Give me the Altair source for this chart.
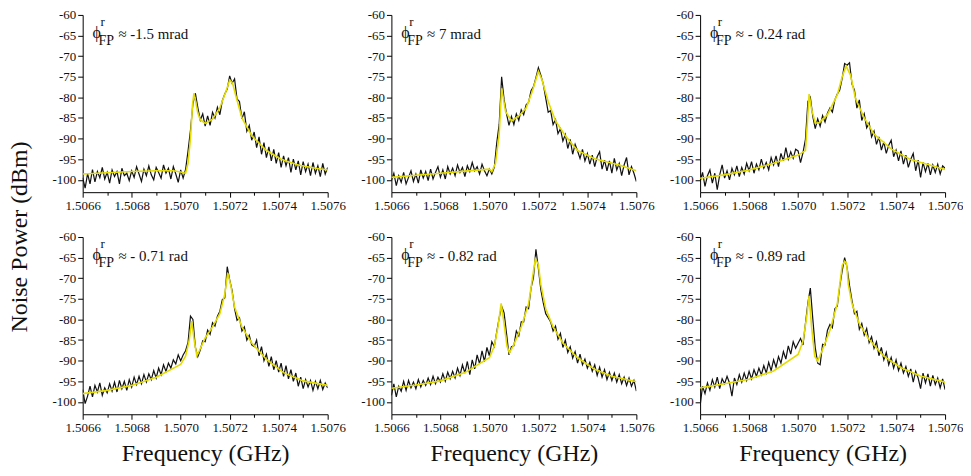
import altair as alt
import pandas as pd

# ---------------- data ----------------
FREQ = [
    1.50660, 1.50661, 1.50662, 1.50663, 1.50664, 1.50665, 1.50666, 1.50667, 1.50668, 1.50669,
    1.50670, 1.50671, 1.50672, 1.50673, 1.50674, 1.50675, 1.50676, 1.50677, 1.50678, 1.50679,
    1.50680, 1.50681, 1.50682, 1.50683, 1.50684, 1.50685, 1.50686, 1.50687, 1.50688, 1.50689,
    1.50690, 1.50691, 1.50692, 1.50693, 1.50694, 1.50695, 1.50696, 1.50697, 1.50698, 1.50699,
    1.50700, 1.50701, 1.50702, 1.50703, 1.50704, 1.50705, 1.50706, 1.50707, 1.50708, 1.50709,
    1.50710, 1.50711, 1.50712, 1.50713, 1.50714, 1.50715, 1.50716, 1.50717, 1.50718, 1.50719,
    1.50720, 1.50721, 1.50722, 1.50723, 1.50724, 1.50725, 1.50726, 1.50727, 1.50728, 1.50729,
    1.50730, 1.50731, 1.50732, 1.50733, 1.50734, 1.50735, 1.50736, 1.50737, 1.50738, 1.50739,
    1.50740, 1.50741, 1.50742, 1.50743, 1.50744, 1.50745, 1.50746, 1.50747, 1.50748, 1.50749,
    1.50750, 1.50751, 1.50752, 1.50753, 1.50754, 1.50755, 1.50756, 1.50757, 1.50758, 1.50759,
    1.50760,
]

MEAS_1 = [
    -99.5, -102.0, -98.5, -101.0, -97.5, -100.5, -98.0, -99.5, -97.0, -99.8,
    -98.2, -100.8, -97.6, -99.2, -98.0, -101.0, -97.2, -99.0, -98.4, -100.2,
    -97.8, -99.4, -96.8, -98.6, -100.4, -97.4, -99.0, -96.6, -98.8, -100.0,
    -97.0, -98.2, -99.6, -96.4, -98.4, -97.2, -99.8, -96.8, -98.6, -100.6,
    -97.6, -99.6, -97.5, -93.0, -88.0, -81.5, -79.0, -82.5, -85.5, -84.0,
    -87.0, -84.5, -86.8, -83.6, -85.0, -82.4, -84.2, -80.8, -79.2, -78.0,
    -74.8, -76.6, -75.5, -80.4, -81.0, -85.2, -83.5, -88.2, -86.8, -90.4,
    -88.4, -92.2, -89.6, -93.8, -91.0, -94.6, -92.0, -95.4, -92.6, -96.0,
    -93.4, -97.0, -94.2, -96.6, -94.6, -98.2, -95.0, -97.6, -95.4, -98.8,
    -95.6, -98.0, -96.2, -99.0, -95.8, -98.4, -96.6, -99.2, -96.0, -98.6,
    -97.0,
]
MEAS_2 = [
    -100.2, -98.4, -101.4, -99.0, -100.6, -98.2, -101.0, -99.4, -97.8, -100.4,
    -98.6, -100.8, -97.6, -99.6, -98.0, -100.2, -97.4, -99.8, -98.2, -96.8,
    -99.4, -97.6, -99.8, -96.8, -98.6, -97.2, -99.0, -96.4, -98.2, -97.0,
    -99.2, -96.6, -98.0, -95.8, -97.8, -96.8, -98.6, -96.2, -97.8, -99.0,
    -97.4, -98.6, -97.0, -91.0, -86.5, -75.0, -80.5, -84.0, -86.8, -84.6,
    -86.6, -84.0, -85.6, -83.0, -84.2, -81.8, -81.2, -78.4, -77.4, -75.2,
    -72.8, -74.6, -76.8, -80.2, -83.6, -83.2, -86.6, -85.4, -88.8, -87.6,
    -90.6, -89.0, -92.4, -90.2, -93.8, -91.4, -93.0, -94.8, -92.6, -95.4,
    -93.6, -96.2, -94.0, -96.8, -94.4, -93.2, -97.4, -95.2, -97.8, -95.4,
    -98.4, -94.8, -97.6, -96.0, -99.0, -96.4, -94.6, -98.8, -96.8, -98.4,
    -100.4,
]
MEAS_3 = [
    -100.4, -98.2, -101.6, -99.0, -97.6, -100.8, -98.4, -102.4, -98.8, -96.4,
    -99.6, -97.8, -100.0, -97.2, -98.8, -96.6, -99.2, -97.0, -98.6, -96.0,
    -97.8, -95.6, -98.4, -96.2, -97.6, -95.0, -97.2, -95.8, -97.6, -94.6,
    -96.4, -94.2, -96.8, -93.6, -95.4, -92.2, -95.0, -93.2, -94.8, -92.6,
    -93.0, -95.8, -93.4, -90.2, -81.0, -80.0, -84.6, -87.6, -85.2, -87.0,
    -84.4, -86.0, -83.8, -82.6, -83.6, -80.6, -79.2, -78.2, -75.4, -71.8,
    -72.2, -71.6, -76.8, -78.2, -82.6, -80.6, -85.6, -84.0, -87.4, -86.2,
    -89.6, -88.2, -91.4, -89.6, -92.8, -90.8, -93.6, -91.6, -90.4, -94.4,
    -92.8, -95.4, -93.0, -96.2, -94.0, -97.0, -95.0, -93.6, -97.8, -95.2,
    -99.4, -95.8, -98.0, -96.0, -98.8, -96.4, -98.2, -96.2, -98.6, -96.6,
    -97.2,
]
MEAS_4 = [
    -97.0, -100.4, -98.6, -96.2, -98.8, -96.0, -97.6, -95.4, -98.4, -96.6,
    -97.8, -95.6, -97.4, -95.2, -97.6, -94.8, -96.8, -95.0, -97.2, -94.6,
    -96.4, -94.0, -95.8, -93.8, -95.6, -93.4, -95.2, -93.2, -94.6, -92.4,
    -94.2, -91.8, -93.4, -91.0, -92.6, -90.6, -91.8, -89.8, -90.8, -88.6,
    -90.0, -88.6, -87.6, -85.6, -79.2, -80.0, -86.8, -89.0, -87.4, -85.2,
    -85.4, -82.6, -83.6, -80.8, -81.6, -79.2, -78.0, -75.2, -74.8, -67.2,
    -70.4, -73.0, -77.4, -80.2, -79.6, -82.8, -81.8, -85.0, -83.8, -86.2,
    -86.6, -85.0, -88.8, -86.6, -90.0, -88.4, -91.4, -89.0, -92.2, -90.0,
    -92.8, -90.6, -93.8, -91.2, -94.4, -92.2, -95.0, -93.0, -96.2, -94.0,
    -96.8, -94.6, -96.4, -94.8, -97.2, -95.0, -96.8, -94.8, -97.0, -95.4,
    -96.6,
]
MEAS_5 = [
    -98.4, -95.6, -98.8, -96.2, -97.4, -95.0, -97.2, -94.8, -96.6, -95.2,
    -96.8, -94.6, -96.4, -94.8, -96.0, -94.2, -95.8, -93.8, -95.6, -94.0,
    -95.2, -93.2, -95.0, -92.8, -94.4, -92.6, -94.2, -91.8, -93.6, -91.0,
    -93.0, -90.2, -93.4, -89.8, -92.0, -88.6, -90.8, -87.6, -90.2, -86.8,
    -88.8, -85.4, -86.6, -83.0, -79.6, -76.8, -78.4, -83.4, -88.6, -86.6,
    -86.4, -82.8, -84.0, -80.6, -80.6, -77.0, -77.4, -72.4, -69.8, -63.0,
    -67.6, -72.8, -76.0, -78.6, -79.6, -80.6, -82.8, -81.6, -84.8, -83.4,
    -86.8, -85.0, -88.0, -86.6, -89.4, -87.8, -90.6, -88.4, -91.0, -89.6,
    -91.8, -90.4, -92.6, -91.0, -93.6, -91.6, -94.0, -92.2, -94.6, -92.8,
    -94.8, -93.0, -95.2, -93.4, -95.6, -94.0, -96.0, -94.2, -96.2, -94.8,
    -97.4,
]
MEAS_6 = [
    -101.0, -96.2, -98.0, -95.4, -97.2, -94.6, -96.4, -94.0, -96.8, -94.4,
    -95.6, -93.8, -95.4, -98.6, -94.2, -95.8, -93.4, -95.2, -93.0, -94.8,
    -92.6, -94.4, -92.2, -93.8, -91.8, -93.4, -91.2, -93.0, -90.4, -92.4,
    -89.8, -91.6, -89.0, -90.6, -87.8, -89.6, -86.4, -88.4, -85.4, -87.0,
    -85.8, -84.6, -86.2, -81.0, -76.0, -72.4, -79.8, -86.8, -90.6, -91.0,
    -86.0, -86.2, -82.6, -81.2, -82.0, -77.4, -76.8, -72.0, -68.2, -65.0,
    -67.4, -71.8, -75.4, -78.6, -78.0, -82.4, -81.0, -83.8, -82.2, -85.6,
    -84.2, -87.0, -85.4, -88.8, -86.8, -89.8, -88.0, -91.0, -89.2, -91.8,
    -89.8, -92.4, -90.6, -93.0, -91.4, -93.8, -92.0, -95.2, -92.6, -94.2,
    -96.8, -93.0, -95.4, -93.2, -96.2, -93.6, -95.8, -94.2, -96.6, -94.4,
    -97.0,
]

FIT_F1 = [1.50660, 1.50670, 1.50680, 1.50690, 1.50697, 1.50700, 1.50702, 1.507030, 1.507040,
          1.507048, 1.507054, 1.507060, 1.507070, 1.507080, 1.507100, 1.507130, 1.507160,
          1.507185, 1.507200, 1.507212, 1.507226, 1.507250, 1.507290, 1.507350, 1.507410,
          1.507480, 1.507550, 1.507600]
FIT_P1 = [-98.6, -98.3, -98.0, -97.8, -97.8, -98.1, -98.4, -96.0, -90.0,
          -82.0, -79.0, -80.6, -83.8, -85.4, -86.3, -85.3, -82.5,
          -78.5, -75.8, -76.6, -79.8, -85.0, -89.3, -92.9, -95.0,
          -96.4, -97.2, -97.6]
FIT_F2 = [1.50660, 1.50670, 1.50680, 1.50690, 1.50700, 1.50701, 1.507025, 1.507040, 1.507050,
          1.507066, 1.507090, 1.507120, 1.507150, 1.507175, 1.507200, 1.507215, 1.507240,
          1.507270, 1.507310, 1.507360, 1.507430, 1.507530, 1.507600]
FIT_P2 = [-99.4, -98.9, -98.4, -97.9, -97.4, -98.0, -96.0, -89.0, -77.8,
          -83.4, -85.7, -84.5, -82.6, -78.6, -73.7, -75.8, -81.0,
          -85.7, -89.3, -92.9, -94.9, -96.4, -97.8]
FIT_F3 = [1.50660, 1.50670, 1.50680, 1.50690, 1.50700, 1.50703, 1.507038, 1.507045, 1.507054,
          1.507070, 1.507085, 1.507120, 1.507160, 1.507180, 1.507196, 1.507214, 1.507234,
          1.507270, 1.507310, 1.507380, 1.507460, 1.507600]
FIT_P3 = [-99.6, -98.8, -97.6, -96.0, -94.0, -92.9, -86.0, -79.2, -82.6,
          -86.2, -86.2, -84.2, -79.4, -75.0, -72.4, -74.6, -80.2,
          -85.0, -88.9, -92.5, -95.1, -97.5]
FIT_F4 = [1.50660, 1.50670, 1.50680, 1.50690, 1.50700, 1.50702, 1.507035, 1.507045, 1.507055,
          1.507066, 1.507076, 1.507100, 1.507130, 1.507160, 1.507180, 1.507192, 1.507205,
          1.507220, 1.507250, 1.507290, 1.507350, 1.507420, 1.507500, 1.507600]
FIT_P4 = [-98.0, -97.2, -96.0, -94.0, -90.9, -88.9, -85.0, -80.4, -85.0,
          -88.8, -87.6, -84.5, -81.8, -78.6, -73.9, -68.7, -71.9,
          -77.0, -81.8, -85.7, -89.7, -92.9, -94.9, -96.0]
FIT_F5 = [1.50660, 1.50670, 1.50680, 1.50690, 1.50700, 1.50702, 1.507035, 1.507048, 1.507060,
          1.507072, 1.507082, 1.507100, 1.507130, 1.507160, 1.507180, 1.507188, 1.507200,
          1.507210, 1.507230, 1.507260, 1.507300, 1.507360, 1.507430, 1.507500, 1.507600]
FIT_P5 = [-96.7, -95.9, -94.9, -92.9, -89.3, -86.5, -81.8, -76.1, -81.0,
          -86.5, -88.1, -86.1, -81.8, -76.2, -68.3, -65.3, -66.7,
          -71.5, -77.4, -81.8, -85.7, -89.3, -92.1, -93.8, -95.1]
FIT_F6 = [1.50660, 1.50670, 1.50680, 1.50690, 1.50700, 1.50702, 1.507035, 1.507045, 1.507055,
          1.507068, 1.507080, 1.507100, 1.507130, 1.507160, 1.507180, 1.507190, 1.507198,
          1.507205, 1.507220, 1.507250, 1.507290, 1.507350, 1.507420, 1.507500, 1.507600]
FIT_P6 = [-96.6, -95.6, -94.5, -92.5, -88.5, -85.3, -79.4, -74.3, -81.8,
          -88.9, -90.1, -87.3, -82.6, -76.2, -66.9, -65.9, -66.4,
          -71.5, -76.2, -81.0, -84.9, -88.9, -91.7, -93.7, -95.2]

PHASE_LABELS = ["\u2248 -1.5 mrad", "\u2248 7 mrad", "\u2248 - 0.24 rad",
                "\u2248 - 0.71 rad", "\u2248 - 0.82 rad", "\u2248 - 0.89 rad"]

X_TICKS = [1.5066, 1.5067, 1.5068, 1.5069, 1.5070, 1.5071, 1.5072, 1.5073, 1.5074, 1.5075, 1.5076]
Y_TICKS = [-100, -95, -90, -85, -80, -75, -70, -65, -60]
X_DOMAIN = [1.5066, 1.5076]
Y_DOMAIN = [-103, -60]
ANNOT_X = 1.50664
ANNOT_Y = -65.9

MEAS = [MEAS_1, MEAS_2, MEAS_3, MEAS_4, MEAS_5, MEAS_6]
FITS = [(FIT_F1, FIT_P1), (FIT_F2, FIT_P2), (FIT_F3, FIT_P3),
        (FIT_F4, FIT_P4), (FIT_F5, FIT_P5), (FIT_F6, FIT_P6)]

# ---------------- style ----------------
SERIF = "Liberation Serif"
W, H = 246, 178
INK = "#111111"


def panel(i, bottom):
    meas_df = pd.DataFrame({"f": FREQ, "p": MEAS[i]})
    fit_df = pd.DataFrame({"f": FITS[i][0], "p": FITS[i][1]})
    ann_df = pd.DataFrame({"f": [ANNOT_X], "p": [ANNOT_Y], "t": [PHASE_LABELS[i]]})

    x_axis = alt.Axis(
        values=X_TICKS, tickCount=11,
        labelExpr="round(datum.value*10000) % 2 == 0 ? format(datum.value, '.4f') : ''",
        tickSize={"condition": {"test": "round(datum.value*10000) % 2 == 0", "value": 5}, "value": 3},
        grid=False, labelOverlap=False,
        labelFont=SERIF, labelFontSize=13, labelColor=INK,
        labelPadding=2, labelFlush=False,
        domainColor="#000000", tickColor="#000000",
        title="Frequency (GHz)" if bottom else None,
        titleFont=SERIF, titleFontSize=24, titleFontWeight="normal",
        titleColor=INK, titlePadding=7,
    )
    y_axis = alt.Axis(
        values=Y_TICKS, tickCount=9,
        labelExpr="'' + datum.value",
        tickSize=5, grid=False, labelOverlap=False,
        labelFont=SERIF, labelFontSize=13, labelColor=INK,
        labelPadding=2, labelFlush=False,
        domainColor="#000000", tickColor="#000000",
        title=None,
    )
    xs = alt.Scale(domain=X_DOMAIN, nice=False, zero=False)
    ys = alt.Scale(domain=Y_DOMAIN, nice=False, zero=False)
    xe = alt.X("f:Q", scale=xs, axis=x_axis)
    ye = alt.Y("p:Q", scale=ys, axis=y_axis)

    meas = alt.Chart(meas_df).mark_line(color="#111111", strokeWidth=1.2, clip=True).encode(
        x=xe, y=ye
    )
    fit = alt.Chart(fit_df).mark_line(color="#e4dc00", strokeWidth=1.6, clip=True).encode(
        x=xe, y=ye
    )
    base = alt.Chart(ann_df).encode(x=xe, y=ye)
    phi = base.mark_text(text="\u03d5", font=SERIF, fontSize=16, align="left",
                         baseline="alphabetic", color=INK, dx=0, dy=-1)
    sup = base.mark_text(text="r", font=SERIF, fontSize=13, align="left",
                         baseline="alphabetic", color=INK, dx=8, dy=-13)
    sub = base.mark_text(text="FP", font=SERIF, fontSize=14, align="left",
                         baseline="alphabetic", color=INK, dx=6, dy=6)
    val = base.mark_text(font=SERIF, fontSize=15, align="left",
                         baseline="alphabetic", color=INK, dx=26, dy=0).encode(text="t:N")
    return alt.layer(meas, fit, phi, sup, sub, val).properties(width=W, height=H)


panels = [panel(i, i >= 3) for i in range(6)]

chart = alt.concat(
    *panels, columns=3, spacing={"row": 45, "column": 64}, bounds="flush"
).properties(
    title=alt.TitleParams(
        text="Noise Power (dBm)", orient="left", anchor="middle",
        font=SERIF, fontSize=24, fontWeight="normal", color=INK, offset=20,
    ),
    padding=0,
).configure_view(stroke=None)

chart.save("out.html", embed_options={"renderer": "svg", "actions": False})
